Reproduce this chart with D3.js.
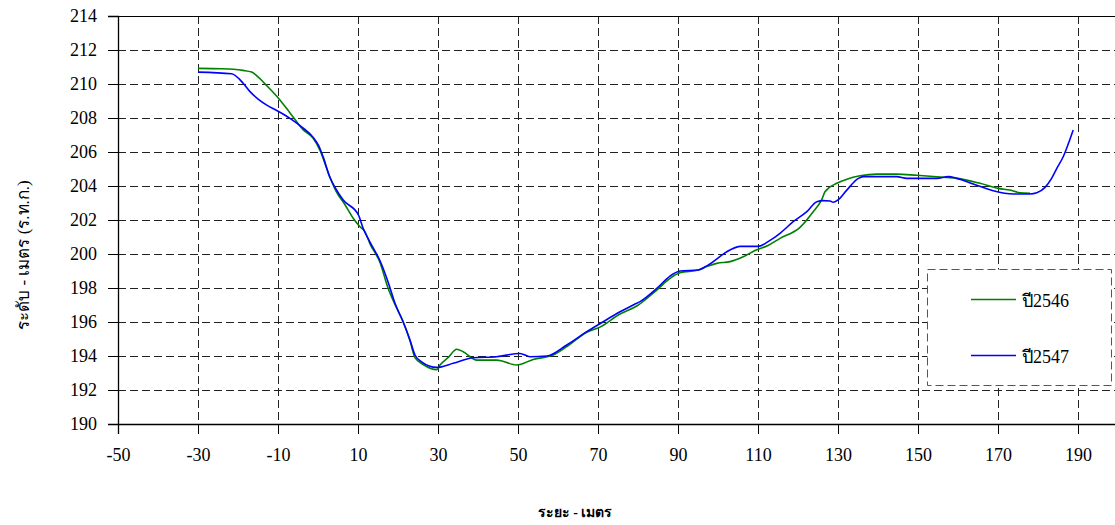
<!DOCTYPE html>
<html>
<head>
<meta charset="utf-8">
<title>ระดับ - ระยะ</title>
<script src="https://d3js.org/d3.v7.min.js"></script>
<style>
  body { margin:0; background:#fff; }
  svg text { font-family: "Liberation Serif", "Times New Roman", serif; fill:#000; }
  .grid line { stroke:#222; stroke-width:1; stroke-dasharray:8,4; }
</style>
</head>
<body>
<svg id="chart" width="1115" height="525"></svg>
<script>
"use strict";

// ปี2546
const x2546 = [-30, -24, -18.75, -16.6, -12.8, -10.2, -7, -3.7, -1.2, 0.5, 3, 4.5, 6.75, 8.8, 10.5, 11.75, 13, 15.5, 17.5, 19.5, 21.3, 23, 24.25, 26.3, 29.7, 30.5, 32.5, 34.7, 36.3, 39.7, 44.7, 49.7, 53.8, 58.8, 62.2, 67.2, 70.5, 75.5, 79.7, 84.7, 88, 90.5, 95.1, 97.2, 99.7, 103, 106.3, 109.25, 112.5, 115.5, 120.5, 123.8, 125.9, 126.75, 129.7, 132.2, 135.5, 139.7, 144.7, 149.7, 157.2, 159.7, 165.5, 170.1, 173, 175.5, 178];
const y2546 = [210.92, 210.9, 210.8, 210.7, 209.9, 209.25, 208.3, 207.3, 206.8, 206.1, 204.5, 203.7, 202.9, 202.1, 201.6, 201.3, 200.6, 199.5, 198.0, 196.9, 196.0, 194.9, 193.9, 193.5, 193.2, 193.47, 193.9, 194.4, 194.25, 193.76, 193.76, 193.47, 193.8, 194.06, 194.55, 195.4, 195.7, 196.47, 196.94, 197.88, 198.57, 198.9, 199.06, 199.26, 199.45, 199.55, 199.84, 200.2, 200.5, 200.92, 201.57, 202.49, 203.18, 203.66, 204.16, 204.4, 204.6, 204.7, 204.7, 204.63, 204.5, 204.45, 204.16, 203.86, 203.76, 203.6, 203.57];

// ปี2547
const x2547 = [-30, -21.6, -18.7, -17, -14.9, -12.8, -10.2, -7, -3.7, -1.2, 0.1, 1.3, 3, 4.4, 6.3, 10.1, 11.3, 13, 15.5, 17.6, 19.25, 21.3, 23, 24.25, 25.9, 29.7, 33.8, 38.8, 44.7, 50.5, 53, 57.2, 62.2, 67.2, 70.5, 75.5, 78.8, 80.5, 84.7, 88, 90.5, 95.1, 97.2, 103, 105.5, 110, 113, 115.5, 118.8, 122.2, 124.7, 126.3, 128, 128.8, 130, 132.2, 135.1, 136.3, 144.7, 147.2, 154.7, 157.6, 159.7, 163.8, 168.8, 173.8, 178, 179.7, 181.75, 183.4, 184.7, 186.3, 187.6, 188.8];
const y2547 = [210.7, 210.6, 210.04, 209.55, 209.1, 208.76, 208.43, 207.98, 207.4, 206.86, 206.4, 205.7, 204.5, 203.86, 203.18, 202.3, 201.5, 200.7, 199.6, 198.3, 197.1, 196.0, 194.94, 194.06, 193.66, 193.33, 193.57, 193.9, 193.96, 194.15, 193.96, 194.0, 194.65, 195.43, 195.9, 196.6, 197.0, 197.2, 197.98, 198.7, 199.0, 199.06, 199.3, 200.24, 200.45, 200.45, 200.8, 201.22, 201.9, 202.49, 203.08, 203.14, 203.12, 203.04, 203.18, 203.76, 204.45, 204.55, 204.55, 204.45, 204.45, 204.55, 204.45, 204.12, 203.72, 203.53, 203.53, 203.6, 203.92, 204.45, 205.04, 205.72, 206.5, 207.3];

const xTicks = [-50, -30, -10, 10, 30, 50, 70, 90, 110, 130, 150, 170, 190];
const yTicks = [190, 192, 194, 196, 198, 200, 202, 204, 206, 208, 210, 212, 214];

const seriesPrefix = ["ปี", "ปี"];
const seriesYears = ["2546", "2547"];
const seriesColors = ["#008000", "#0000ff"];

const serif = "'Liberation Serif', 'Times New Roman', serif";

const svg = d3.select("#chart");
const margin = { top:16, left:118, bottom:424 };
const plotRight = 1118;

const xScale = d3.scaleLinear().domain([-50, 200]).range([margin.left, plotRight]);
const yScale = d3.scaleLinear().domain([190, 214]).range([margin.bottom, margin.top]);

// grid
const grid = svg.append("g").attr("class", "grid");
grid.selectAll("line.v").data(xTicks.slice(1)).enter().append("line")
    .attr("x1", d => Math.round(xScale(d)) + 0.5).attr("x2", d => Math.round(xScale(d)) + 0.5)
    .attr("y1", margin.top).attr("y2", margin.bottom);
grid.selectAll("line.h").data(yTicks.slice(1, -1)).enter().append("line")
    .attr("x1", margin.left).attr("x2", plotRight)
    .attr("y1", d => Math.round(yScale(d)) + 0.5).attr("y2", d => Math.round(yScale(d)) + 0.5);

// top border
svg.append("line")
    .attr("x1", margin.left).attr("x2", plotRight)
    .attr("y1", margin.top + 0.5).attr("y2", margin.top + 0.5)
    .attr("stroke", "#000");

// axes
const xAxis = d3.axisBottom(xScale).tickValues(xTicks).tickSize(10).tickPadding(14)
    .tickFormat(d => String(d));
const gx = svg.append("g").attr("transform", `translate(0,${margin.bottom})`).call(xAxis);
gx.attr("font-family", null);
gx.select(".domain").attr("stroke", "#000").attr("stroke-width", 1.3);
gx.selectAll("text").attr("font-size", 18).style("font-family", serif);

const yAxis = d3.axisLeft(yScale).tickValues(yTicks).tickSize(10).tickPadding(11)
    .tickFormat(d => String(d));
const gy = svg.append("g").attr("transform", `translate(${margin.left},0)`).call(yAxis);
gy.attr("font-family", null);
gy.select(".domain").attr("stroke", "#000").attr("stroke-width", 1.3);
gy.selectAll("text").attr("font-size", 18).style("font-family", serif);

// lines
const line = d3.line()
    .x(d => xScale(d[0]))
    .y(d => yScale(d[1]))
    .curve(d3.curveMonotoneX);

const data = [
    d3.zip(x2546, y2546),
    d3.zip(x2547, y2547)
];

svg.selectAll("path.series").data(data).enter().append("path")
    .attr("class", "series")
    .attr("fill", "none")
    .attr("stroke", (d, i) => seriesColors[i])
    .attr("stroke-width", 1.6)
    .attr("d", line);

// legend
const legend = svg.append("g");
legend.append("rect")
    .attr("x", 927.5).attr("y", 269.5).attr("width", 184).attr("height", 116)
    .attr("fill", "#fff").attr("stroke", "#555").attr("stroke-dasharray", "8,4");
seriesYears.forEach((year, i) => {
    const yy = 299.5 + i * 56;
    legend.append("line")
        .attr("x1", 971).attr("x2", 1016).attr("y1", yy).attr("y2", yy)
        .attr("stroke", seriesColors[i]).attr("stroke-width", 1.6);
    const t = legend.append("text")
        .attr("x", 1022).attr("y", yy + 7)
        .attr("font-size", 18);
    t.append("tspan").text(seriesPrefix[i]);
    t.append("tspan").style("font-family", serif).text(year);
});

// axis titles
svg.append("text")
    .attr("x", 575).attr("y", 517)
    .attr("text-anchor", "middle")
    .attr("font-size", 14)
    .attr("font-weight", "bold")
    .text("ระยะ - เมตร");

svg.append("text")
    .attr("transform", "translate(29,255) rotate(-90)")
    .attr("text-anchor", "middle")
    .attr("font-size", 17)
    .text("ระดับ - เมตร (ร.ท.ก.)");
</script>
</body>
</html>
